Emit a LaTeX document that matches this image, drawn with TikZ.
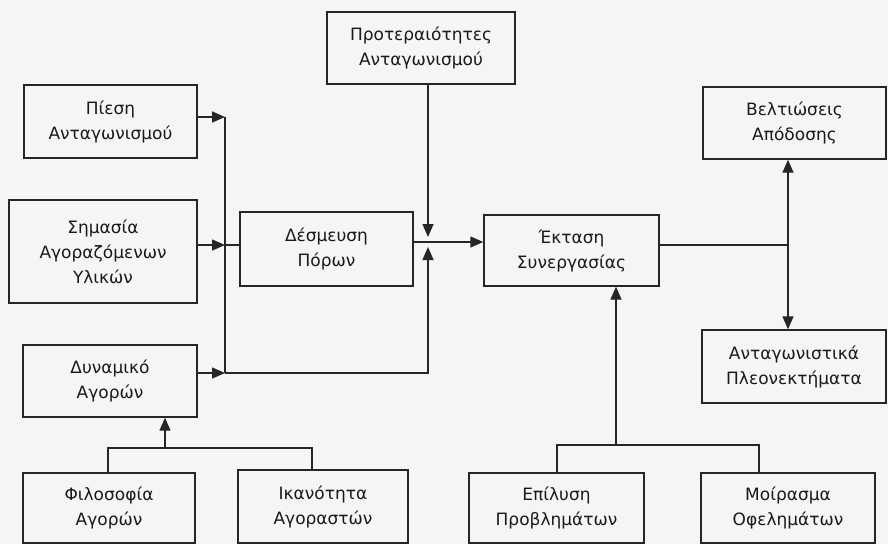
\documentclass[tikz,border=0pt]{standalone}
\usepackage{fontspec}
\setmainfont{DejaVu Sans}
\usetikzlibrary{arrows.meta}

\begin{document}
\begin{tikzpicture}[
    x=1pt, y=-1pt,
    every node/.style={inner sep=2pt, font=\fontsize{17}{25}\selectfont, text=black!90},
    box/.style={draw=black!85, line width=1.4pt, align=center, minimum height=72pt},
    flow/.style={draw=black!85, line width=1.4pt, -{Triangle[length=13pt,width=11pt]}},
    link/.style={draw=black!85, line width=1.4pt}
]
    \useasboundingbox[fill=black!4] (0,0) rectangle (888,544);

    % boxes
    \node[box, minimum width=188pt] (prot) at (421,48) {Προτεραιότητες\\Ανταγωνισμού};
    \node[box, minimum width=173pt, minimum height=73pt] (piesi) at (110.5,121.5) {Πίεση\\Ανταγωνισμού};
    \node[box, minimum width=188pt, minimum height=103pt] (simasia) at (103,251.5) {Σημασία\\Αγοραζόμενων\\Υλικών};
    \node[box, minimum width=173pt, minimum height=74pt] (desmeysi) at (326.5,249) {Δέσμευση\\Πόρων};
    \node[box, minimum width=174pt] (dynamiko) at (110,381) {Δυναμικό\\Αγορών};
    \node[box, minimum width=175pt, minimum height=71pt] (ektasi) at (571.5,250.5) {Έκταση\\Συνεργασίας};
    \node[box, minimum width=183pt] (veltioseis) at (794.5,123) {Βελτιώσεις\\Απόδοσης};
    \node[box, minimum width=184pt, minimum height=73pt] (antag) at (794,366.5) {Ανταγωνιστικά\\Πλεονεκτήματα};
    \node[box, minimum width=172pt, minimum height=70pt] (filosofia) at (109,508) {Φιλοσοφία\\Αγορών};
    \node[box, minimum width=170pt, minimum height=73pt] (ikanotita) at (323,506.5) {Ικανότητα\\Αγοραστών};
    \node[box, minimum width=175pt, minimum height=70pt] (epilysi) at (556.5,508) {Επίλυση\\Προβλημάτων};
    \node[box, minimum width=174pt, minimum height=70pt] (moirasma) at (788,508) {Μοίρασμα\\Οφελημάτων};

    % junctions
    \coordinate (jTop) at (225,117);
    \coordinate (jMid) at (225,245);
    \coordinate (jBot) at (225,373);
    \coordinate (hub) at (428,242);
    \coordinate (hubLow) at (428,373);
    \coordinate (jRight) at (788,245);
    \coordinate (jMarketL) at (108,448);
    \coordinate (jMarket) at (165,448);
    \coordinate (jMarketR) at (312,448);
    \coordinate (jSolveL) at (557,445);
    \coordinate (jSolve) at (616,445);
    \coordinate (jSolveR) at (759,445);

    % left inputs
    \draw[flow] (piesi.east |- jTop) -- (jTop);
    \draw[flow] (simasia.east |- jMid) -- (jMid);
    \draw[flow] (dynamiko.east |- jBot) -- (jBot);
    \draw[link] (jTop) -- (jBot);
    \draw[link] (jMid) -- (desmeysi.west |- jMid);

    % into the hub
    \draw[flow, shorten >=5pt] (hub |- prot.south) -- (hub);
    \draw[flow, shorten >=5pt] (jBot) -- (hubLow) -- (hub);
    \draw[flow] (desmeysi.east |- hub) -- (ektasi.west |- hub);

    % outcomes
    \draw[link] (ektasi.east |- jRight) -- (jRight);
    \draw[flow] (jRight) -- (jRight |- veltioseis.south);
    \draw[flow] (jRight) -- (jRight |- antag.north);

    % bottom groups
    \draw[link] (jMarketL |- filosofia.north) -- (jMarketL) -- (jMarketR) -- (jMarketR |- ikanotita.north);
    \draw[flow] (jMarket) -- (jMarket |- dynamiko.south);
    \draw[link] (jSolveL |- epilysi.north) -- (jSolveL) -- (jSolveR) -- (jSolveR |- moirasma.north);
    \draw[flow] (jSolve) -- (jSolve |- ektasi.south);
\end{tikzpicture}
\end{document}
